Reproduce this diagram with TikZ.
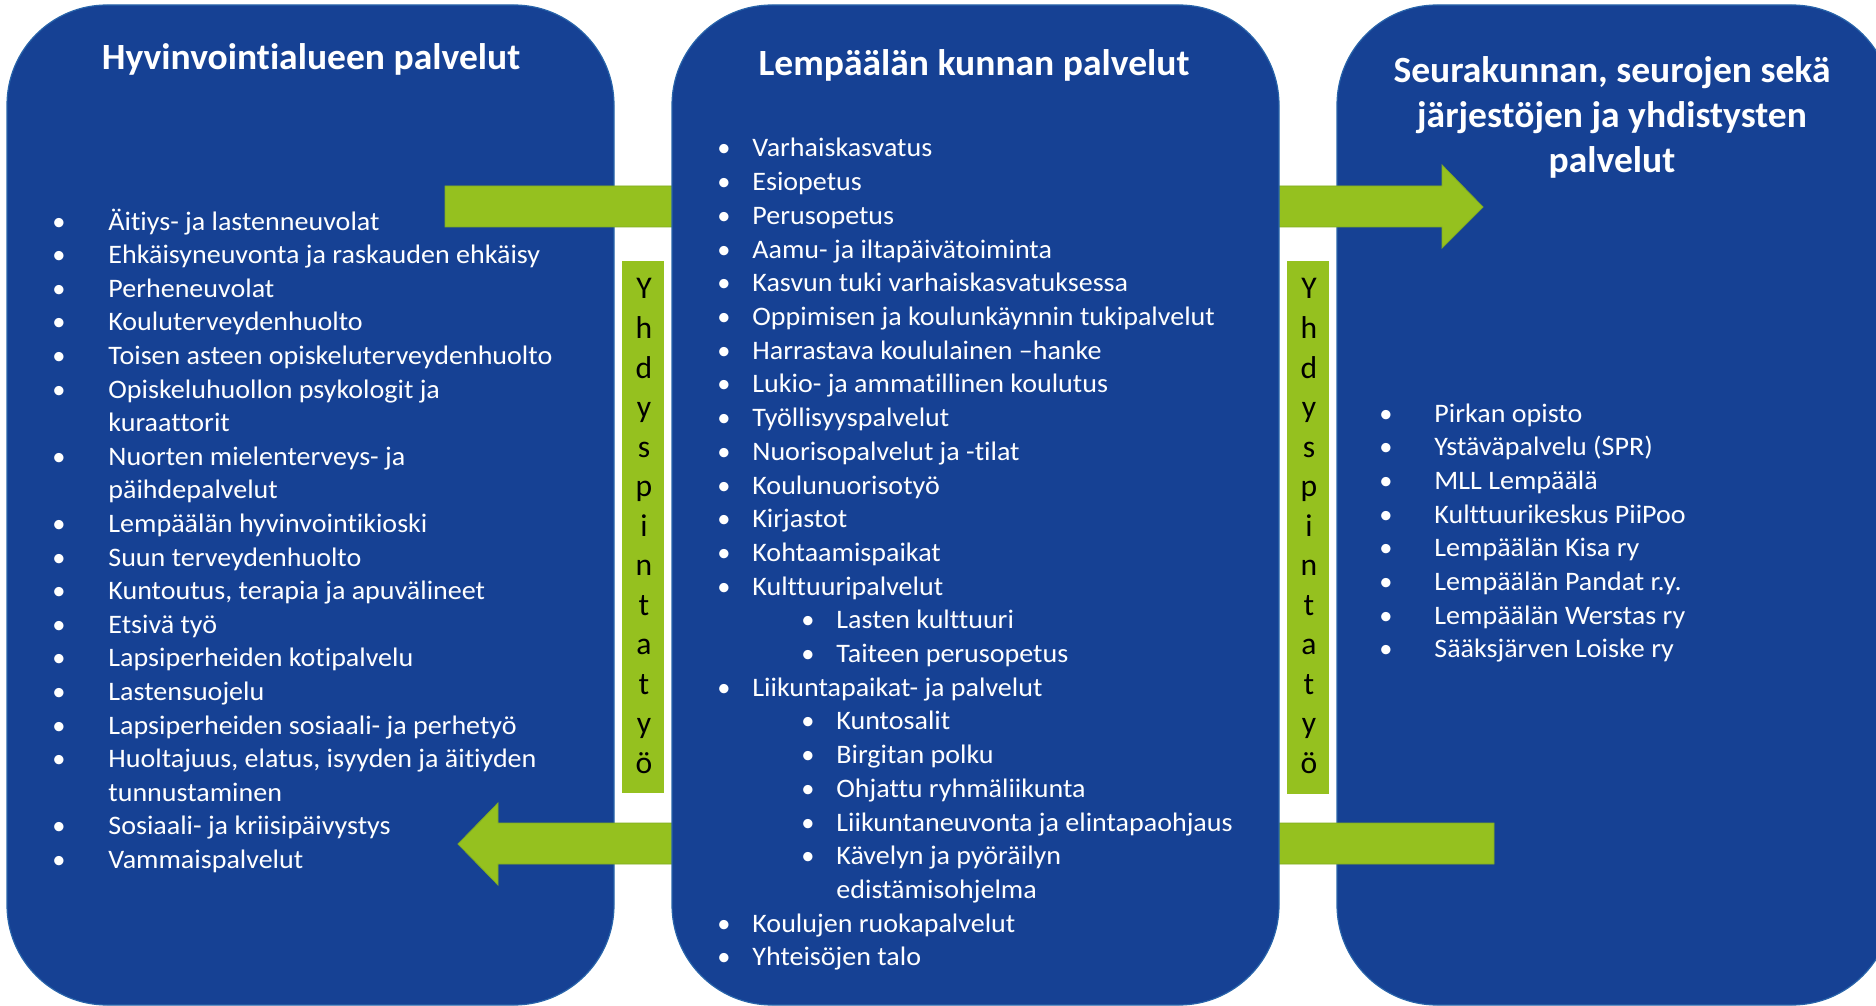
\documentclass[tikz,border=0pt]{standalone}
\usepackage{fontspec}
\setmainfont{Carlito}[Ligatures={NoCommon}]
\newfontfamily\bodyfont{Carlito}[Ligatures={NoCommon},FakeStretch=1.05]
\newfontfamily\titlefont{Carlito}[Ligatures={NoCommon},FakeStretch=1.015]
\definecolor{boxblue}{RGB}{22,65,148}
\definecolor{boxedge}{RGB}{40,100,170}
\definecolor{agreen}{RGB}{149,193,31}
\definecolor{agreenedge}{RGB}{128,172,36}
\begin{document}
\begin{tikzpicture}[x=0.5pt,y=-0.5pt,
 panel/.style={fill=boxblue,draw=boxedge,line width=0.6pt,rounded corners=50pt},
 barrow/.style={fill=agreen,draw=agreenedge,line width=0.4pt},
 strip/.style={fill=agreen},
 ttl/.style={text=white,font=\titlefont\fontsize{18.5}{22.5}\selectfont\bfseries,inner sep=0,anchor=base},
 item/.style={text=white,font=\bodyfont\fontsize{13.35}{16}\selectfont,inner sep=0,anchor=base west},
 bul/.style={text=white,font=\fontsize{13.2}{16}\selectfont,inner sep=0,anchor=base},
 vlet/.style={text=black,font=\fontsize{15.8}{18}\selectfont,inner sep=0,anchor=base}]
\useasboundingbox (0,0) rectangle (1876,1006);
\clip (0,0) rectangle (1876,1006);
\fill[white] (0,0) rectangle (1876,1006);
% side panels
\draw[panel] (7,5) rectangle (614,1005);
\draw[panel] (1337,5) rectangle (1892,1005);
% block arrows
\draw[barrow] (445,186) -- (1442,186) -- (1442,165) -- (1483,207) -- (1442,248) -- (1442,227) -- (445,227) -- cycle;
\draw[barrow] (1494,823) -- (498,823) -- (498,803) -- (458,844) -- (498,885) -- (498,864) -- (1494,864) -- cycle;
% middle panel
\draw[panel] (672,5) rectangle (1279,1005);
% strips
\fill[strip] (622,261) rectangle (664,793);
\fill[strip] (1287,261) rectangle (1329,794);
\foreach \c [count=\i from 0] in {Y,h,d,y,s,p,i,n,t,a,t,y,ö}{
  \node[vlet] (VL\i) at (644,{299+39.5*\i}) {\c};
  \node[vlet] (VR\i) at (1309,{299+39.5*\i}) {\c};
}
% titles
\node[ttl] (tl) at (311,70) {Hyvinvointialueen palvelut};
\node[ttl] (tm) at (974,76) {Lempäälän kunnan palvelut};
\node[ttl] (tr1) at (1612,83) {Seurakunnan, seurojen sekä};
\node[ttl] (tr2) at (1612,128) {järjestöjen ja yhdistysten};
\node[ttl] (tr3) at (1612,173) {palvelut};
% left list
\foreach \b/\t [count=\i from 0] in {
 1/Äitiys- ja lastenneuvolat,
 1/Ehkäisyneuvonta ja raskauden ehkäisy,
 1/Perheneuvolat,
 1/Kouluterveydenhuolto,
 1/Toisen asteen opiskeluterveydenhuolto,
 1/Opiskeluhuollon psykologit ja,
 0/kuraattorit,
 1/Nuorten mielenterveys- ja,
 0/päihdepalvelut,
 1/Lempäälän hyvinvointikioski,
 1/Suun terveydenhuolto,
 1/{Kuntoutus, terapia ja apuvälineet},
 1/Etsivä työ,
 1/Lapsiperheiden kotipalvelu,
 1/Lastensuojelu,
 1/Lapsiperheiden sosiaali- ja perhetyö,
 1/{Huoltajuus, elatus, isyyden ja äitiyden},
 0/tunnustaminen,
 1/Sosiaali- ja kriisipäivystys,
 1/Vammaispalvelut}{
  \node[item] (L\i) at (108,{230+33.6*\i}) {\t};
  \ifnum\b=1 \node[bul] (LB\i) at (59,{230+33.6*\i}) {•};\fi
}
% middle list: 1 bullet, 2 sub bullet, 3 sub continuation
\foreach \b/\t [count=\i from 0] in {
 1/Varhaiskasvatus,
 1/Esiopetus,
 1/Perusopetus,
 1/Aamu- ja iltapäivätoiminta,
 1/Kasvun tuki varhaiskasvatuksessa,
 1/Oppimisen ja koulunkäynnin tukipalvelut,
 1/Harrastava koululainen –hanke,
 1/Lukio- ja ammatillinen koulutus,
 1/Työllisyyspalvelut,
 1/Nuorisopalvelut ja -tilat,
 1/Koulunuorisotyö,
 1/Kirjastot,
 1/Kohtaamispaikat,
 1/Kulttuuripalvelut,
 2/Lasten kulttuuri,
 2/Taiteen perusopetus,
 1/Liikuntapaikat- ja palvelut,
 2/Kuntosalit,
 2/Birgitan polku,
 2/Ohjattu ryhmäliikunta,
 2/Liikuntaneuvonta ja elintapaohjaus,
 2/Kävelyn ja pyöräilyn,
 3/edistämisohjelma,
 1/Koulujen ruokapalvelut,
 1/Yhteisöjen talo}{
  \ifnum\b=1
    \node[item] (M\i) at (752,{157+33.7*\i}) {\t};
    \node[bul] (MB\i) at (724,{157+33.7*\i}) {•};
  \else
    \node[item] (M\i) at (836,{157+33.7*\i}) {\t};
    \ifnum\b=2 \node[bul] (MB\i) at (808,{157+33.7*\i}) {•};\fi
  \fi
}
% right list
\foreach \t [count=\i from 0] in {
 Pirkan opisto,
 Ystäväpalvelu (SPR),
 MLL Lempäälä,
 Kulttuurikeskus PiiPoo,
 Lempäälän Kisa ry,
 Lempäälän Pandat r.y.,
 Lempäälän Werstas ry,
 Sääksjärven Loiske ry}{
  \node[item] (R\i) at (1434,{422+33.7*\i}) {\t};
  \node[bul] (RB\i) at (1386,{422+33.7*\i}) {•};
}
\end{tikzpicture}
\end{document}
